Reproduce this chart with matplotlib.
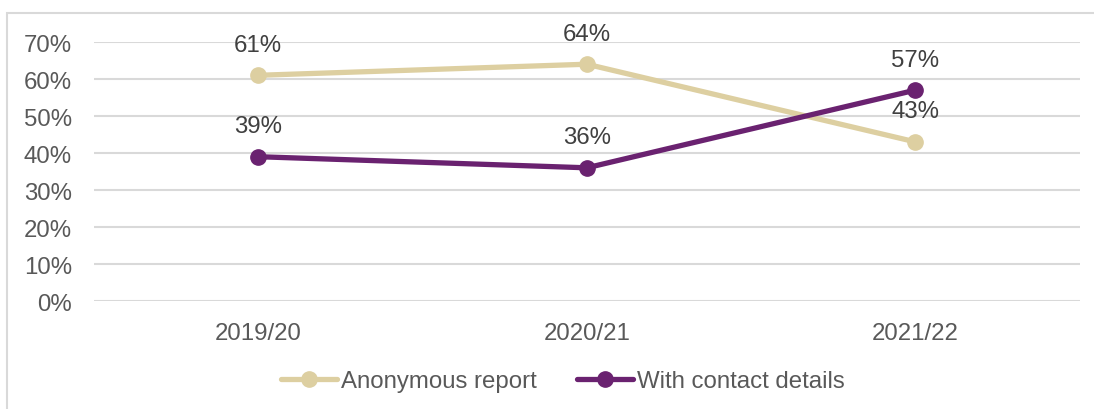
import matplotlib.pyplot as plt
from matplotlib.patches import Rectangle
from matplotlib.ticker import PercentFormatter

# datos
years = ['2019/20', '2020/21', '2021/22']
anonymous = [61, 64, 43]
with_contact = [39, 36, 57]

plt.rcParams['font.family'] = ['Liberation Sans', 'DejaVu Sans']

fig = plt.figure(figsize=(10.94, 4.10), dpi=100)
ax = fig.add_axes([0.0859, 0.2634, 0.9011, 0.6317])

# marco exterior
fig.patches.append(Rectangle((7 / 1094, -0.05), 1.1, 1 - 14 / 410 + 0.05,
                             transform=fig.transFigure, fill=False,
                             edgecolor='#D9D9D9', linewidth=1.5))

x = range(len(years))
ax.plot(x, anonymous, color='#DDCFA1', lw=3.8, marker='o', ms=11,
        label='Anonymous report', solid_capstyle='round', zorder=3)
ax.plot(x, with_contact, color='#6A2270', lw=3.8, marker='o', ms=11,
        label='With contact details', solid_capstyle='round', zorder=3)

for xi, v in zip(x, anonymous):
    ax.annotate(f'{v}%', (xi, v), xytext=(0, 22), textcoords='offset points',
                ha='center', va='center', fontsize=17.3, color='#404040')
for xi, v in zip(x, with_contact):
    ax.annotate(f'{v}%', (xi, v), xytext=(0, 22), textcoords='offset points',
                ha='center', va='center', fontsize=17.3, color='#404040')

ax.set_xlim(-0.5, 2.5)
ax.set_ylim(0, 70)
ax.set_yticks(range(0, 71, 10))
ax.yaxis.set_major_formatter(PercentFormatter(decimals=0))
ax.set_xticks(list(x))
ax.set_xticklabels(years)
ax.grid(axis='y', color='#D9D9D9', lw=1.5)
ax.set_axisbelow(True)
for s in ax.spines.values():
    s.set_visible(False)
ax.tick_params(length=0, labelsize=17.3, colors='#595959')
ax.tick_params(axis='y', pad=16)
ax.tick_params(axis='x', pad=15)

leg = ax.legend(loc='center', bbox_to_anchor=(563 / 1094, 1 - 382 / 410),
                bbox_transform=fig.transFigure, ncol=2, frameon=False,
                fontsize=17.3, handlelength=2.33, handletextpad=0.17,
                columnspacing=1.66, borderpad=0)
for t in leg.get_texts():
    t.set_color('#595959')

fig.savefig('out.png', dpi=100)
